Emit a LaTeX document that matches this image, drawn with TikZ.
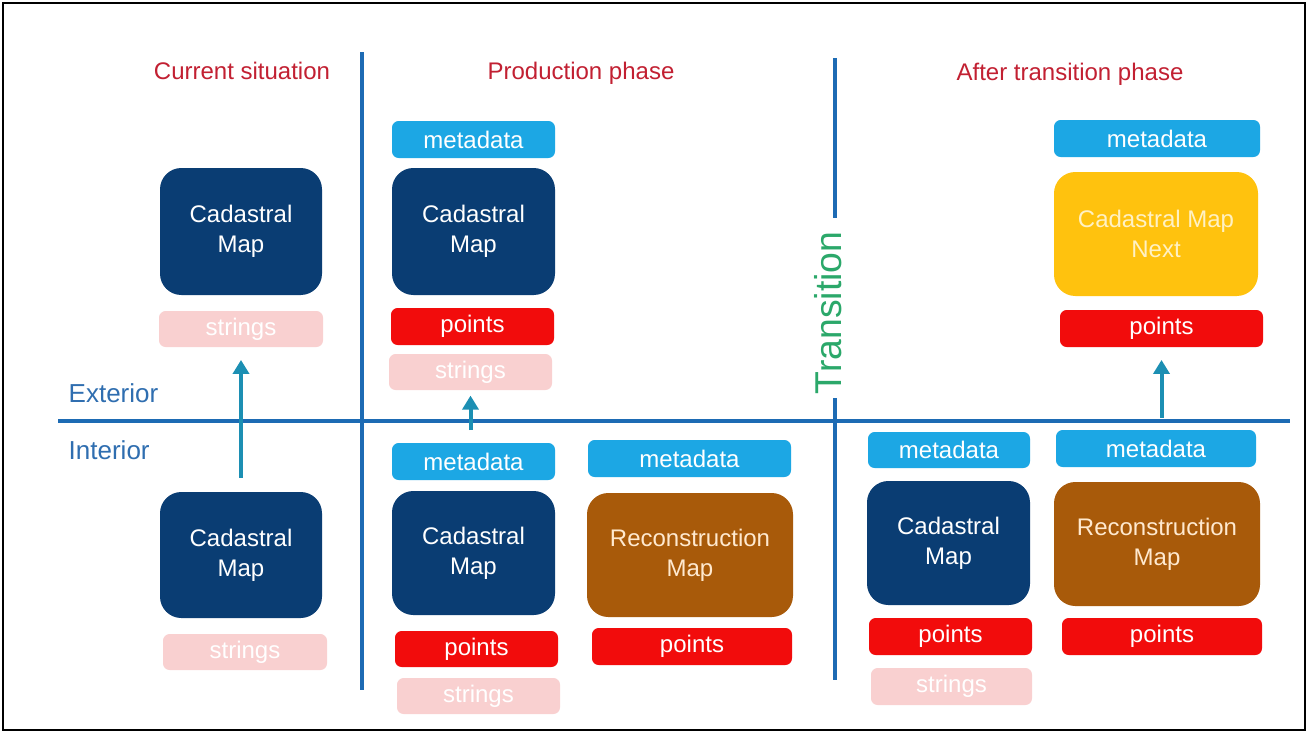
\documentclass[tikz,border=0pt]{standalone}
\usepackage{fontspec}
\setmainfont{Liberation Sans}
\usetikzlibrary{arrows.meta}
\definecolor{navy}{HTML}{0A3D73}
\definecolor{mdblue}{HTML}{1CA7E4}
\definecolor{ptred}{HTML}{F20C0C}
\definecolor{strpink}{HTML}{F9D0D0}
\definecolor{gold}{HTML}{FFC20E}
\definecolor{goldtxt}{HTML}{FFF1C4}
\definecolor{brown}{HTML}{A85A0A}
\definecolor{browntxt}{HTML}{FFE9CF}
\definecolor{hdred}{HTML}{C22032}
\definecolor{sidetxt}{HTML}{2F6EB0}
\definecolor{linecol}{HTML}{1D6BB4}
\definecolor{arrcol}{HTML}{1C8FB3}
\definecolor{transgreen}{HTML}{2BA86A}
\tikzset{
  wh/.style 2 args={minimum width=#1*0.75pt, minimum height=#2*0.75pt},
  basebox/.style={inner sep=0pt, align=center, text=white,
    font=\fontsize{18}{22.5}\selectfont},
  bigbox/.style={basebox, rounded corners=16pt},
  smallbox/.style={basebox, rounded corners=5pt},
  mapbox/.style={bigbox, fill=navy},
  nextbox/.style={bigbox, fill=gold, text=goldtxt},
  recbox/.style={bigbox, fill=brown, text=browntxt},
  mdbox/.style={smallbox, fill=mdblue},
  ptbox/.style={smallbox, fill=ptred},
  strbox/.style={smallbox, fill=strpink},
  header/.style={text=hdred, anchor=base, font=\fontsize{18}{22}\selectfont},
  side/.style={text=sidetxt, anchor=west, font=\fontsize{19.5}{22}\selectfont},
  divider/.style={draw=linecol, line width=3.5pt},
  uparrow/.style={draw=arrcol, line width=3pt, -{Triangle[length=10.5pt,width=12pt]}},
}
\begin{document}
\begin{tikzpicture}[x=0.75pt,y=-0.75pt]
\useasboundingbox (0,0) rectangle (1307,733);
\fill[white] (0,0) rectangle (1307,733);
\draw[black, line width=1.5pt] (3,3) rectangle (1305,730);

% dividers
\draw[divider] (58,421) -- (1290,421);
\draw[divider] (362,52) -- (362,690);
\draw[divider] (835,58) -- (835,218);
\draw[divider] (835,398) -- (835,680);

% headings
\node[header] (h1) at (242,79) {Current situation};
\node[header] (h2) at (581,79) {Production phase};
\node[header] (h3) at (1070,80) {After transition phase};
\node[side] (ext) at (64,393) {Exterior};
\node[side] (int) at (64,450) {Interior};
\node[text=transgreen, rotate=90, font=\fontsize{28}{30}\selectfont] (trans) at (828,313) {Transition};

% current situation
\node[mapbox, wh={162}{127}] (cm1) at (241,231.5) {Cadastral\\Map};
\node[strbox, wh={164}{36}] (st1) at (241,329) {strings};
\node[mapbox, wh={162}{126}] (cm2) at (241,555) {Cadastral\\Map};
\node[strbox, wh={164}{36}] (st2) at (245,652) {strings};

% production phase, exterior
\node[mdbox, wh={163}{37}] (md3) at (473.5,139.5) {metadata};
\node[mapbox, wh={163}{127}] (cm3) at (473.5,231.5) {Cadastral\\Map};
\node[ptbox, wh={163}{37}] (pt3) at (472.5,326.5) {points};
\node[strbox, wh={163}{36}] (st3) at (470.5,372) {strings};

% production phase, interior
\node[mdbox, wh={163}{37}] (md4) at (473.5,461.5) {metadata};
\node[mapbox, wh={163}{124}] (cm4) at (473.5,553) {Cadastral\\Map};
\node[ptbox, wh={163}{36}] (pt4) at (476.5,649) {points};
\node[strbox, wh={163}{36}] (st4) at (478.5,696) {strings};
\node[mdbox, wh={203}{37}] (md5) at (689.5,458.5) {metadata};
\node[recbox, wh={206}{124}] (rm5) at (690,555) {Reconstruction\\Map};
\node[ptbox, wh={200}{37}] (pt5) at (692,646.5) {points};

% after transition, exterior
\node[mdbox, wh={206}{37}] (md6) at (1157,138.5) {metadata};
\node[nextbox, wh={204}{124}] (cn6) at (1156,234) {Cadastral Map\\Next};
\node[ptbox, wh={203}{37}] (pt6) at (1161.5,328.5) {points};

% after transition, interior
\node[mdbox, wh={162}{36}] (md7) at (949,450) {metadata};
\node[mapbox, wh={163}{124}] (cm7) at (948.5,543) {Cadastral\\Map};
\node[ptbox, wh={163}{37}] (pt7) at (950.5,636.5) {points};
\node[strbox, wh={161}{37}] (st7) at (951.5,686.5) {strings};
\node[mdbox, wh={200}{37}] (md8) at (1156,448.5) {metadata};
\node[recbox, wh={206}{124}] (rm8) at (1157,544) {Reconstruction\\Map};
\node[ptbox, wh={200}{37}] (pt8) at (1162,636.5) {points};

% arrows
\draw[uparrow, shorten <=10.5pt, shorten >=9.5pt] (cm2.north) -- (st1.south);
\draw[uparrow, shorten <=9.5pt, shorten >=4pt] (md4.north -| st3.south) -- (st3.south);
\draw[uparrow, shorten <=9pt, shorten >=9.5pt] (md8.north -| pt6.south) -- (pt6.south);
\end{tikzpicture}
\end{document}
